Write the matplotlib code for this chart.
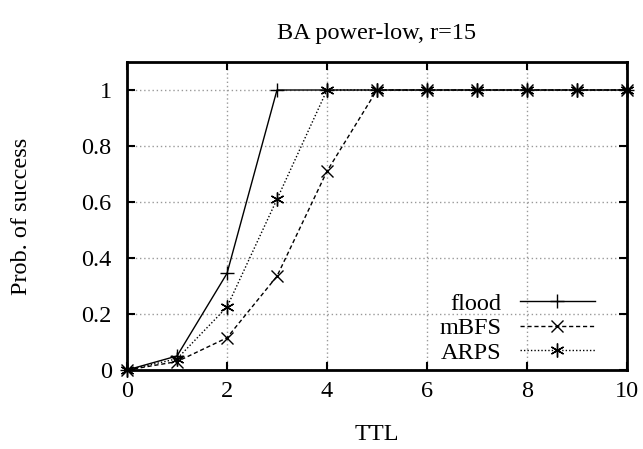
import matplotlib
matplotlib.use("Agg")
import matplotlib.pyplot as plt

plt.rcParams["font.family"] = ["Liberation Serif", "DejaVu Serif"]

ttl = [0, 1, 2, 3, 4, 5, 6, 7, 8, 9, 10]
flood = [0.0, 0.05, 0.345, 1, 1, 1, 1, 1, 1, 1, 1]
mbfs = [0.0, 0.03, 0.115, 0.335, 0.71, 1, 1, 1, 1, 1, 1]
arps = [0.0, 0.04, 0.225, 0.61, 1, 1, 1, 1, 1, 1, 1]

fs = 17.5

fig = plt.figure(figsize=(6.43, 4.49), dpi=100)
ax = fig.add_axes([127 / 643, 1 - 370 / 449, 500 / 643, 308 / 449])

ax.plot(ttl, flood, color="black", lw=1, marker="+", ms=10, mew=1, label="flood", clip_on=False, zorder=3)
ax.plot(ttl, mbfs, color="black", lw=1, ls=(0, (3, 2)), marker="x", ms=9, mew=1, label="mBFS", clip_on=False, zorder=3)
ax.plot(ttl, arps, color="black", lw=1, ls=(0, (1, 1.5)), marker=(6, 2, 0), ms=10, mew=1, label="ARPS", clip_on=False, zorder=3)

ax.set_xlim(0, 10)
ax.set_ylim(0, 1.1)
ax.set_xticks([0, 2, 4, 6, 8, 10])
ax.set_yticks([0, 0.2, 0.4, 0.6, 0.8, 1])
ax.set_yticklabels(["0", "0.2", "0.4", "0.6", "0.8", "1"])
ax.grid(True, color="#999999", ls=(0, (1, 2)), lw=1)
ax.tick_params(direction="in", top=True, right=True, length=6, width=1.5, labelsize=fs)
ax.tick_params(axis="x", pad=8)
ax.tick_params(axis="y", pad=11)
for s in ax.spines.values():
    s.set_linewidth(2)

ax.set_xlabel("TTL", fontsize=fs, va="top")
ax.xaxis.set_label_coords(0.5, -0.175)
ax.set_ylabel("Prob. of success", fontsize=fs)
ax.yaxis.set_label_coords(-0.19, 0.5)
fig.text(377 / 643, 1 - 33 / 449, "BA power-low, r=15", fontsize=fs, ha="center", va="center")

ax.legend(loc="lower right", bbox_to_anchor=(0.936, 0.02), frameon=False, markerfirst=False,
          fontsize=fs, handlelength=3.1, handletextpad=0.74, labelspacing=0.1,
          borderpad=0, borderaxespad=0)

fig.savefig("out.png", dpi=100)
